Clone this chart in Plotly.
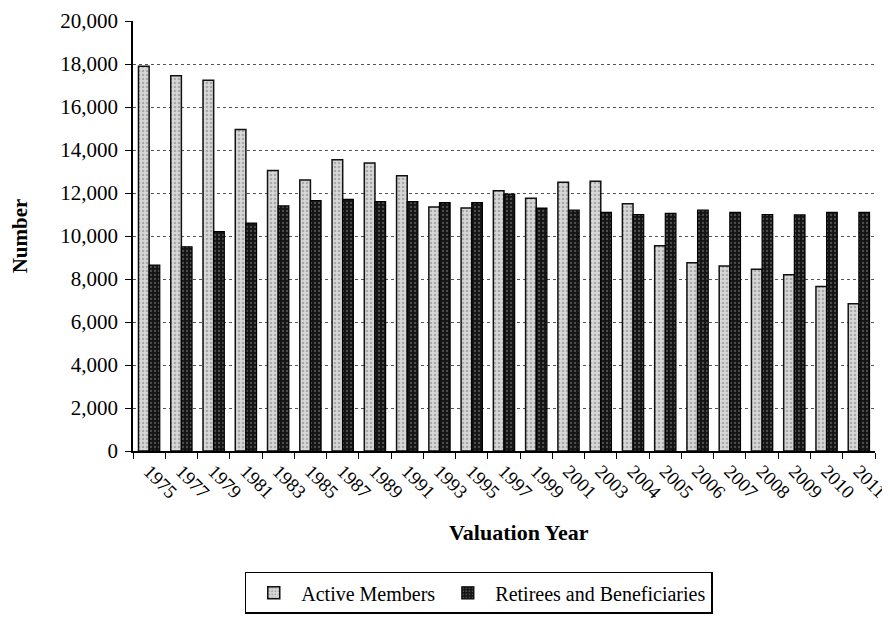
import plotly.graph_objects as go

years = ["1975", "1977", "1979", "1981", "1983", "1985", "1987", "1989", "1991", "1993",
         "1995", "1997", "1999", "2001", "2003", "2004", "2005", "2006", "2007", "2008",
         "2009", "2010", "2011"]
active_members = [17900, 17450, 17250, 14950, 13050, 12600, 13550, 13400, 12800, 11350,
                  11300, 12100, 11750, 12500, 12550, 11500, 9550, 8750, 8600, 8450,
                  8200, 7650, 6850]
retirees_beneficiaries = [8650, 9500, 10200, 10600, 11400, 11650, 11700, 11600, 11600, 11550,
                          11550, 11950, 11300, 11200, 11100, 11000, 11050, 11200, 11100, 11000,
                          10980, 11100, 11100]

FONT = "Liberation Serif"

fig = go.Figure()
fig.add_trace(go.Bar(
    x=years, y=active_members, name="Active Members",
    marker=dict(color="#cfcfcf", line=dict(color="#111111", width=1.5),
                pattern=dict(shape=".", fgcolor="#7a7a7a", bgcolor="#d8d8d8", size=4, solidity=0.35)),
))
fig.add_trace(go.Bar(
    x=years, y=retirees_beneficiaries, name="Retirees and Beneficiaries",
    marker=dict(color="#141414", line=dict(color="#000000", width=1.2),
                pattern=dict(shape=".", fgcolor="#8a8a8a", bgcolor="#141414", size=4, solidity=0.25)),
))

fig.update_layout(
    width=882, height=612,
    margin=dict(l=125, r=15, t=13, b=169, autoexpand=False),
    paper_bgcolor="white", plot_bgcolor="white",
    font=dict(family=FONT, size=20, color="black"),
    barmode="group", bargap=0.34, bargroupgap=0.0,
    showlegend=True,
    legend=dict(orientation="h", x=0.466, xanchor="center", y=-0.281, yanchor="top",
                bordercolor="black", borderwidth=1.5, bgcolor="white",
                font=dict(family=FONT, size=20, color="black"),
                traceorder="normal", itemwidth=45),
    xaxis=dict(
        type="category", tickangle=45, showline=True, linecolor="black", linewidth=1.5,
        ticks="outside", tickson="boundaries", ticklen=6, tickcolor="black",
        showgrid=False, tickfont=dict(family=FONT, size=19, color="black"),
        ticklabeloverflow="allow",
    ),
    yaxis=dict(
        range=[0, 20000], dtick=2000, tickformat=",d",
        showline=True, linecolor="black", linewidth=1.5,
        ticks="outside", ticklen=6, tickcolor="black", ticklabelstandoff=3,
        showgrid=True, gridcolor="#555555", griddash="dot", gridwidth=1,
        zeroline=False, ticklabeloverflow="allow",
        tickfont=dict(family=FONT, size=21, color="black"),
        title=dict(text="<b>Number</b>", font=dict(family=FONT, size=21, color="black"), standoff=32),
    ),
    annotations=[dict(
        text="<b>Valuation Year</b>", xref="paper", yref="paper", x=0.52, y=-0.156,
        xanchor="center", yanchor="top", showarrow=False,
        font=dict(family=FONT, size=22, color="black"),
    )],
)

fig.write_html("out.html")
